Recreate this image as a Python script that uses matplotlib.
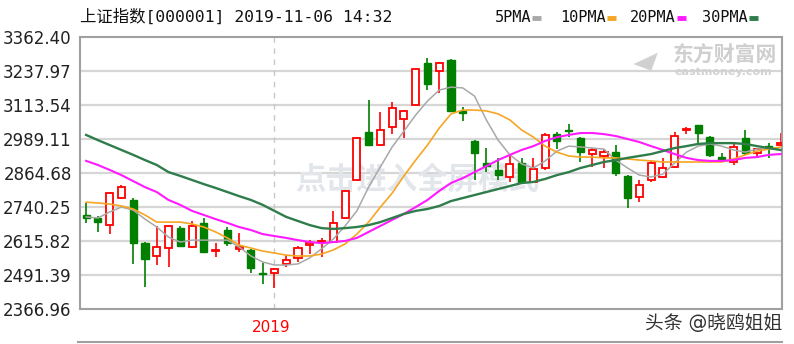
import matplotlib
matplotlib.use("Agg")
import matplotlib.pyplot as plt
from matplotlib.lines import Line2D

plt.rcParams['font.family'] = ['DejaVu Sans', 'Noto Sans CJK SC']

# weekly candles, Shanghai Composite
opens = [2711, 2700, 2674, 2773, 2766, 2608, 2561, 2590, 2663, 2594,
         2682, 2579, 2656, 2587, 2583, 2499, 2499, 2532, 2553, 2601,
         2612, 2612, 2700, 2839, 3015, 2967, 3033, 3062, 3114, 3267,
         3238, 3278, 3092, 2982, 2901, 2876, 2850, 2901, 2832, 2883,
         3007, 3022, 2993, 2934, 2927, 2942, 2854, 2777, 2839, 2850,
         2887, 3022, 3040, 2996, 2923, 2905, 2993, 2938, 2963, 2967]
highs = [2755, 2707, 2795, 2821, 2773, 2612, 2671, 2674, 2671, 2689,
         2700, 2608, 2667, 2645, 2587, 2535, 2517, 2564, 2597, 2619,
         2627, 2726, 2802, 2996, 3132, 3088, 3124, 3095, 3249, 3286,
         3271, 3282, 3106, 2985, 2956, 2920, 2927, 2920, 2920, 3011,
         3015, 3044, 2996, 2956, 2952, 2967, 2857, 2839, 2909, 2920,
         3015, 3033, 3040, 3000, 2938, 2974, 3022, 2952, 2974, 3011]
lows = [2682, 2649, 2641, 2769, 2532, 2447, 2528, 2520, 2594, 2590,
        2572, 2557, 2597, 2576, 2499, 2458, 2444, 2520, 2539, 2568,
        2557, 2608, 2696, 2835, 2963, 2963, 3007, 2993, 3114, 3168,
        3157, 3092, 3055, 2839, 2868, 2839, 2832, 2828, 2828, 2876,
        2952, 2996, 2905, 2887, 2883, 2854, 2737, 2758, 2832, 2846,
        2883, 3007, 2974, 2923, 2905, 2894, 2930, 2920, 2920, 2967]
closes = [2700, 2685, 2791, 2813, 2608, 2550, 2594, 2671, 2597, 2671,
          2576, 2583, 2608, 2594, 2517, 2495, 2513, 2546, 2590, 2608,
          2616, 2682, 2799, 2993, 2967, 3022, 3102, 3092, 3245, 3190,
          3267, 3092, 3084, 2938, 2890, 2857, 2898, 2832, 2879, 3004,
          2982, 3018, 2942, 2949, 2942, 2865, 2773, 2821, 2901, 2883,
          3000, 3026, 3011, 2930, 2912, 2960, 2938, 2952, 2956, 2974]

ma5 = [2704, 2700, 2722, 2740, 2729, 2696, 2667, 2630, 2612, 2619,
       2619, 2619, 2619, 2594, 2561, 2539, 2528, 2528, 2532, 2554,
       2587, 2623, 2671, 2726, 2813, 2887, 2960, 3018, 3077, 3128,
       3168, 3179, 3176, 3146, 3059, 2985, 2931, 2898, 2883, 2909,
       2945, 2963, 2960, 2956, 2952, 2912, 2883, 2857, 2850, 2861,
       2901, 2941, 2963, 2971, 2963, 2949, 2941, 2952, 2956, 2949]
ma10 = [2758, 2755, 2751, 2744, 2733, 2711, 2685, 2685, 2685, 2678,
        2667, 2649, 2627, 2601, 2590, 2579, 2572, 2564, 2561, 2561,
        2568, 2583, 2605, 2641, 2685, 2740, 2791, 2854, 2912, 2967,
        3029, 3081, 3095, 3095, 3092, 3081, 3059, 3022, 2996, 2963,
        2941, 2927, 2923, 2923, 2920, 2920, 2916, 2912, 2909, 2905,
        2905, 2905, 2905, 2905, 2905, 2916, 2931, 2945, 2952, 2960]
ma20 = [2909, 2894, 2876, 2857, 2835, 2813, 2795, 2766, 2748, 2726,
        2711, 2696, 2682, 2667, 2656, 2641, 2634, 2627, 2619, 2612,
        2608, 2612, 2616, 2627, 2649, 2671, 2693, 2715, 2740, 2766,
        2799, 2828, 2846, 2868, 2890, 2912, 2931, 2949, 2963, 2982,
        2996, 3004, 3011, 3011, 3007, 3000, 2989, 2978, 2963, 2949,
        2934, 2920, 2912, 2909, 2909, 2912, 2920, 2923, 2931, 2934]
ma30 = [3004, 2985, 2967, 2949, 2931, 2912, 2894, 2868, 2854, 2839,
        2824, 2810, 2795, 2780, 2766, 2748, 2726, 2704, 2689, 2674,
        2663, 2660, 2663, 2667, 2674, 2685, 2700, 2715, 2726, 2733,
        2744, 2762, 2773, 2784, 2795, 2806, 2817, 2828, 2832, 2843,
        2857, 2868, 2883, 2894, 2905, 2912, 2920, 2927, 2934, 2945,
        2956, 2963, 2971, 2974, 2974, 2974, 2971, 2963, 2956, 2949]

yticks = [2366.96, 2491.39, 2615.82, 2740.25, 2864.68, 2989.11, 3113.54, 3237.97, 3362.40]
year_start = 16  # first weekly candle of 2019

RED = '#ff0000'
GREEN = '#007f00'

fig = plt.figure(figsize=(7.94, 3.44), dpi=100)
ax = fig.add_axes([80 / 794, 1 - 309 / 344, 702 / 794, 272 / 344])

ax.set_ylim(yticks[0], yticks[-1])
ax.set_xlim(-0.52, len(closes) - 0.88)
ax.set_yticks(yticks)
ax.set_yticklabels(['%.2f' % t for t in yticks], fontsize=12, color='#222222')
ax.tick_params(axis='y', length=0, pad=6)
ax.set_xticks([])
for t in yticks[1:-1]:
    ax.axhline(t, color='#d6d6d6', lw=1.6, zorder=0)
ax.axvline(year_start, color='#c8c8c8', lw=1, ls=(0, (4, 4)), zorder=0)
for s in ax.spines.values():
    s.set_color('#a0a0a0')
    s.set_linewidth(1.5)

# watermark in the middle
ax.text(0.48, 0.475, '点击进入全屏模式', transform=ax.transAxes, fontsize=22,
        fontweight='bold', color='#e2e5ea', ha='center', va='center', zorder=0.5)

# candles
w = 0.6
for i in range(len(closes)):
    o, h, l, c = opens[i], highs[i], lows[i], closes[i]
    if c >= o:
        ax.vlines(i, l, h, color=RED, lw=1.2, zorder=2)
        ax.bar(i, max(c - o, 3), bottom=o, width=w, facecolor='white',
               edgecolor=RED, linewidth=1.3, zorder=3)
    else:
        ax.vlines(i, l, h, color=GREEN, lw=1.2, zorder=2)
        ax.bar(i, max(o - c, 3), bottom=c, width=w, facecolor=GREEN,
               edgecolor=GREEN, linewidth=1, zorder=3)

x = list(range(len(closes)))
ax.plot(x, ma5, color='#a8a8a8', lw=1.1, zorder=4)
ax.plot(x, ma10, color='#f5a623', lw=1.2, zorder=4)
ax.plot(x, ma20, color='#ff1aff', lw=1.5, zorder=4)
ax.plot(x, ma30, color='#2e7d4a', lw=1.7, zorder=4)

# title and legend
fig.text(80 / 794, 1 - 17 / 344, '上证指数[000001] 2019-11-06 14:32',
         family=['DejaVu Sans Mono', 'Noto Sans CJK SC'], fontsize=11.8,
         color='#111111', ha='left', va='center')
legend_items = [('5PMA', '#a8a8a8', 495), ('10PMA', '#f5a623', 560),
                ('20PMA', '#ff1aff', 630), ('30PMA', '#2e7d4a', 702)]
for label, col, px in legend_items:
    t = fig.text(px / 794, 1 - 18 / 344, label, family='DejaVu Sans Mono',
                 fontsize=11, color='#111111', ha='left', va='center')
    n = len(label)
    sx = px + n * 9.1 + 1
    fig.add_artist(Line2D([sx / 794, (sx + 9) / 794], [1 - 18 / 344] * 2,
                          color=col, lw=3.5, solid_capstyle='butt'))

# eastmoney watermark
fig.text(725 / 794, 1 - 56 / 344, '东方财富网', fontsize=15, fontweight='bold',
         color='#cfcfcf', ha='center', va='center')
fig.text(723 / 794, 1 - 72 / 344, 'eastmoney.com', fontsize=8, fontweight='bold',
         color='#d2d2d2', ha='center', va='center')
fig.text(645 / 794, 1 - 58 / 344, '◢', fontsize=18, color='#d0d0d0',
         ha='center', va='center', rotation=-20)

# x axis label
fig.text(271 / 794, 1 - 327 / 344, '2019', fontsize=11, color='#ff0000',
         ha='center', va='center')
fig.add_artist(Line2D([78 / 794, 782 / 794], [1 - 342 / 344] * 2,
                      color='#a0a0a0', lw=1.5))

fig.text(782 / 794, 1 - 323 / 344, '头条 @晓鸥姐姐', fontsize=13.5,
         color='#333333', ha='right', va='center')

fig.savefig('out.png', dpi=100)
